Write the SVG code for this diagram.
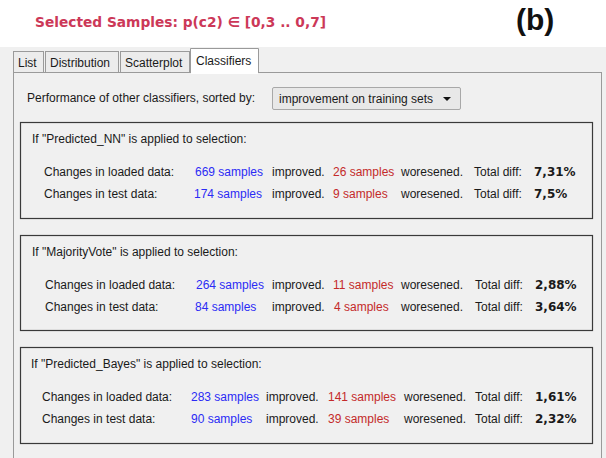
<svg xmlns="http://www.w3.org/2000/svg" width="606" height="458" viewBox="0 0 606 458">
<style>
text{font-family:"Liberation Sans",Arial,sans-serif;font-size:12px;fill:#1a1a1a}
.b{fill:#2b2bf5}
.r{fill:#c42a2a}
.v{font-family:"DejaVu Sans",Verdana,sans-serif;font-weight:bold;font-size:12px}
.box{fill:#f0f0f0;stroke:#3a3a3a;stroke-width:1.2}
.tab{fill:#ececec;stroke:#9a9a9a;stroke-width:1}
</style>
<rect width="606" height="458" fill="#ffffff"/>
<text x="35" y="27" style="font-family:'DejaVu Sans',Verdana,sans-serif;font-size:14px;font-weight:bold;fill:#cc3858" textLength="291" lengthAdjust="spacingAndGlyphs">Selected Samples:  p(c2) ∈ [0,3 .. 0,7]</text>
<text x="516" y="30" style="font-size:30px;font-weight:bold;fill:#111">(b)</text>
<rect x="0" y="47" width="606" height="411" fill="#f0f0f0"/>
<g id="tabs">
<rect class="tab" x="13.5" y="51.5" width="30" height="21"/>
<text x="18" y="67">List</text>
<rect class="tab" x="45.5" y="51.5" width="73" height="21"/>
<text x="50" y="67">Distribution</text>
<rect class="tab" x="120.5" y="51.5" width="69" height="21"/>
<text x="125" y="67">Scatterplot</text>
</g>
<rect x="13.5" y="72.5" width="588" height="390" fill="#f0f0f0" stroke="#9a9a9a"/>
<g id="tab-classifiers">
<path d="M190.5 73 V48.5 H258.5 V73" fill="#ffffff" stroke="#9a9a9a"/>
<rect x="191" y="49" width="67" height="25" fill="#ffffff"/>
<text x="196" y="65">Classifiers</text>
</g>
<g id="sort">
<text x="27" y="102">Performance of other classifiers, sorted by:</text>
<rect x="272.5" y="87.5" width="188" height="22" rx="1.5" fill="#e8e8e8" stroke="#a8a8a8"/>
<text x="279" y="103">improvement on training sets</text>
<path d="M443 97 h8 l-4 4 z" fill="#111"/>
</g>
<g id="nn">
<rect class="box" x="20.5" y="122.5" width="572" height="96"/>
<text x="32" y="143">If "Predicted_NN" is applied to selection:</text>
<text x="44" y="176">Changes in loaded data:</text>
<text class="b" x="195" y="176">669 samples</text>
<text x="272" y="176">improved.</text>
<text class="r" x="333" y="176">26 samples</text>
<text x="401" y="176">woresened.</text>
<text x="474" y="176">Total diff:</text>
<text class="v" x="534" y="176">7,31%</text>
<text x="44" y="198">Changes in test data:</text>
<text class="b" x="194" y="198">174 samples</text>
<text x="272" y="198">improved.</text>
<text class="r" x="333" y="198">9 samples</text>
<text x="401" y="198">woresened.</text>
<text x="474" y="198">Total diff:</text>
<text class="v" x="534" y="198">7,5%</text>
</g>
<g id="mv">
<rect class="box" x="20.5" y="235.5" width="572" height="95"/>
<text x="32" y="256">If "MajorityVote" is applied to selection:</text>
<text x="45" y="289">Changes in loaded data:</text>
<text class="b" x="196" y="289">264 samples</text>
<text x="272" y="289">improved.</text>
<text class="r" x="333" y="289">11 samples</text>
<text x="401" y="289">woresened.</text>
<text x="475" y="289">Total diff:</text>
<text class="v" x="535" y="289">2,88%</text>
<text x="45" y="311">Changes in test data:</text>
<text class="b" x="195" y="311">84 samples</text>
<text x="272" y="311">improved.</text>
<text class="r" x="334" y="311">4 samples</text>
<text x="401" y="311">woresened.</text>
<text x="475" y="311">Total diff:</text>
<text class="v" x="535" y="311">3,64%</text>
</g>
<g id="bayes">
<rect class="box" x="20.5" y="347.5" width="572" height="96"/>
<text x="31" y="368">If "Predicted_Bayes" is applied to selection:</text>
<text x="42" y="401">Changes in loaded data:</text>
<text class="b" x="191" y="401">283 samples</text>
<text x="266" y="401">improved.</text>
<text class="r" x="328" y="401">141 samples</text>
<text x="404" y="401">woresened.</text>
<text x="475" y="401">Total diff:</text>
<text class="v" x="535" y="401">1,61%</text>
<text x="42" y="423">Changes in test data:</text>
<text class="b" x="191" y="423">90 samples</text>
<text x="266" y="423">improved.</text>
<text class="r" x="328" y="423">39 samples</text>
<text x="404" y="423">woresened.</text>
<text x="475" y="423">Total diff:</text>
<text class="v" x="535" y="423">2,32%</text>
</g>
</svg>
